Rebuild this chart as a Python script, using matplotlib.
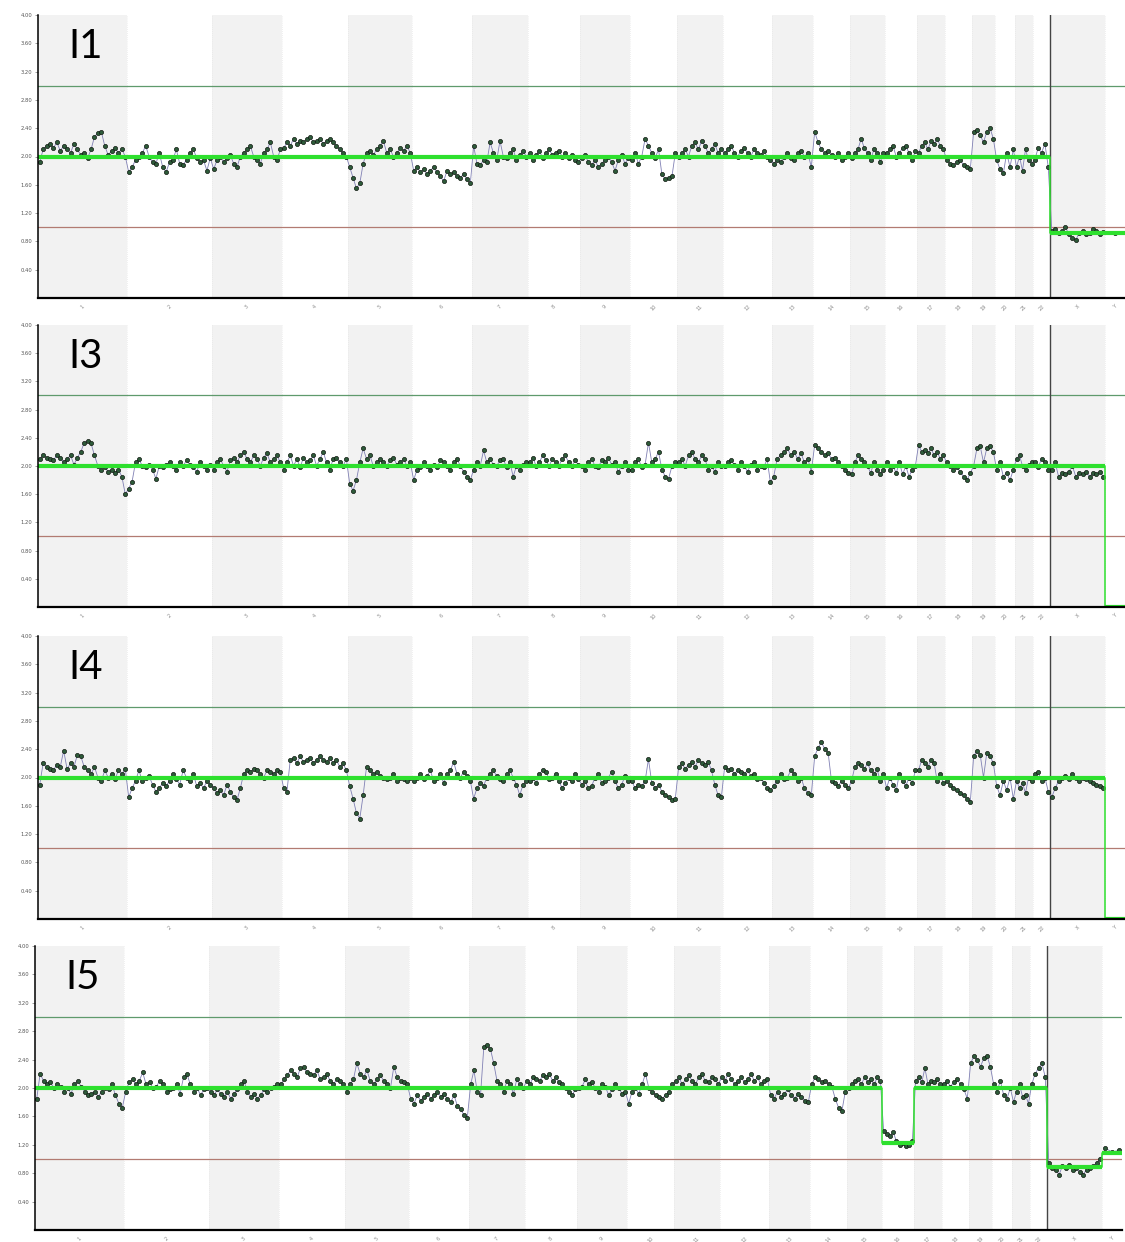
import matplotlib
matplotlib.use("Agg")
import matplotlib.pyplot as plt
import numpy as np

CHROMS = [str(i) for i in range(1, 23)] + ["X", "Y"]
# plotted width of each chromosome (probe-space units)
CHROM_WIDTH = [89, 85, 70, 66, 64, 60, 56, 52, 50, 47, 46, 49,
               41, 37, 35, 32, 28, 27, 23, 20, 18, 17, 55, 20]

Y_TICKS = [0.4, 0.8, 1.2, 1.6, 2.0, 2.4, 2.8, 3.2, 3.6, 4.0]
GAIN_LINE = 3.0
LOSS_LINE = 1.0

# copy-number estimates per chromosome
I1_VALUES = [
    [1.92, 2.1, 2.15, 2.18, 2.12, 2.2, 2.08, 2.15, 2.1, 2.05, 2.18, 2.1, 2.02, 2.05, 1.98, 2.1, 2.28, 2.33, 2.35, 2.15, 2.02, 2.08, 2.12, 2.05, 2.1, 2.0],
    [1.78, 1.85, 1.95, 2.0, 2.05, 2.15, 2.0, 1.92, 1.9, 2.05, 1.85, 1.78, 1.92, 1.95, 2.1, 1.9, 1.88, 1.95, 2.05, 2.1, 1.98, 1.92, 1.95, 1.8, 1.98],
    [1.82, 1.95, 2.0, 1.92, 1.98, 2.02, 1.9, 1.85, 2.0, 2.05, 2.1, 2.15, 2.0, 1.95, 1.9, 2.05, 2.1, 2.2, 2.0, 1.95, 2.1],
    [2.12, 2.2, 2.15, 2.25, 2.18, 2.22, 2.2, 2.25, 2.28, 2.2, 2.22, 2.25, 2.18, 2.22, 2.25, 2.2, 2.15, 2.1, 2.05, 2.0],
    [1.85, 1.7, 1.55, 1.62, 1.9, 2.05, 2.08, 2.02, 2.1, 2.15, 2.22, 2.05, 2.1, 2.0, 2.05, 2.12, 2.08, 2.15, 2.05],
    [1.8, 1.85, 1.78, 1.82, 1.75, 1.8, 1.85, 1.78, 1.72, 1.65, 1.8, 1.75, 1.78, 1.72, 1.7, 1.75, 1.68, 1.62],
    [2.15, 1.9, 1.88, 1.95, 1.92, 2.2, 2.05, 1.95, 2.22, 2.0, 1.98, 2.05, 2.1, 1.95, 2.02, 2.08, 2.0],
    [2.05, 1.95, 2.02, 2.08, 1.98, 2.05, 2.1, 2.02, 2.05, 2.08, 2.0, 2.05, 1.98, 2.02, 1.95, 1.92],
    [1.98, 2.02, 1.92, 1.88, 1.95, 1.85, 1.9, 1.95, 2.0, 1.92, 1.8, 1.95, 2.02, 1.9, 1.98],
    [1.95, 2.05, 1.9, 2.0, 2.25, 2.15, 2.05, 1.98, 2.1, 1.75, 1.68, 1.7, 1.72, 2.05],
    [2.0, 2.05, 2.1, 2.0, 2.15, 2.2, 2.1, 2.22, 2.15, 2.05, 2.1, 2.18, 2.05, 2.1],
    [2.05, 2.1, 2.15, 2.05, 2.0, 2.08, 2.12, 2.05, 2.0, 2.1, 2.05, 2.02, 2.08, 2.0, 1.95],
    [1.9, 1.95, 1.92, 2.0, 2.05, 1.98, 1.95, 2.05, 2.08, 2.0, 2.05, 1.85],
    [2.35, 2.2, 2.1, 2.05, 2.08, 2.02, 2.0, 2.05, 1.95, 2.0, 2.05],
    [1.98, 2.05, 2.1, 2.25, 2.12, 2.05, 1.95, 2.1, 2.05, 1.92, 2.05],
    [2.05, 2.1, 2.15, 2.0, 2.05, 2.12, 2.15, 2.05, 1.95, 2.08],
    [2.05, 2.15, 2.2, 2.1, 2.22, 2.18, 2.25, 2.15, 2.1],
    [1.95, 1.9, 1.88, 1.92, 1.95, 1.88, 1.85, 1.82],
    [2.35, 2.38, 2.3, 2.2, 2.35, 2.4, 2.25],
    [1.95, 1.82, 1.76, 2.05, 1.85, 2.1],
    [1.85, 2.0, 1.8, 2.1, 1.95, 1.9],
    [1.95, 2.12, 2.05, 2.18, 1.85],
    [0.95, 0.98, 0.92, 0.95, 1.0, 0.9, 0.85, 0.82, 0.92, 0.95, 0.9, 0.92, 0.98, 0.95, 0.9, 0.93],
    [0.92],
]
I1_SEGMENTS = [("1", "22", 2.0), ("X", "Y", 0.92)]

I3_VALUES = [
    [2.1, 2.15, 2.12, 2.1, 2.08, 2.15, 2.12, 2.05, 2.1, 2.15, 2.02, 2.12, 2.2, 2.33, 2.35, 2.32, 2.15, 2.0, 1.95, 1.98, 1.92, 1.95, 1.9, 1.95, 1.85, 1.6],
    [1.68, 1.78, 2.05, 2.1, 2.0, 1.98, 2.02, 1.95, 1.82, 2.0, 1.98, 2.02, 2.05, 2.0, 1.95, 2.05, 2.0, 2.08, 2.02, 1.98, 1.92, 2.05, 2.0, 1.95, 2.02],
    [1.95, 2.05, 2.1, 2.0, 1.92, 2.08, 2.12, 2.05, 2.15, 2.2, 2.1, 2.05, 2.15, 2.1, 2.0, 2.12, 2.18, 2.05, 2.1, 2.15, 2.05],
    [1.95, 2.05, 2.15, 2.0, 2.1, 1.98, 2.12, 2.05, 2.08, 2.15, 2.0, 2.1, 2.2, 2.05, 1.95, 2.1, 2.12, 2.05, 2.0, 2.1],
    [1.75, 1.65, 1.8, 2.05, 2.25, 2.1, 2.15, 2.0, 2.05, 2.1, 2.05, 2.0, 2.08, 2.12, 2.02, 2.05, 2.1, 2.0, 2.05],
    [1.8, 1.95, 1.98, 2.05, 2.0, 1.95, 2.02, 1.98, 2.08, 2.05, 2.0, 1.95, 2.05, 2.1, 2.0, 1.92, 1.85, 1.8],
    [1.95, 2.05, 2.0, 2.22, 2.05, 2.1, 2.02, 2.0, 2.08, 2.1, 1.98, 2.05, 1.85, 2.0, 1.95, 2.02, 2.05],
    [2.05, 2.12, 2.0, 2.05, 2.15, 2.08, 2.0, 2.1, 2.05, 2.0, 2.1, 2.15, 2.05, 2.0, 2.08, 2.02],
    [2.0, 1.95, 2.05, 2.1, 2.0, 1.98, 2.08, 2.05, 2.12, 2.02, 2.05, 1.92, 2.0, 2.05, 1.95],
    [1.95, 2.05, 2.1, 1.98, 2.02, 2.33, 2.05, 2.1, 2.2, 1.95, 1.85, 1.82, 2.0, 2.05],
    [2.05, 2.1, 2.0, 2.15, 2.2, 2.1, 2.05, 2.15, 2.1, 1.95, 2.0, 1.92, 2.05, 2.0],
    [2.0, 2.05, 2.08, 2.02, 1.95, 2.05, 2.0, 1.92, 2.02, 2.05, 1.95, 2.0, 1.98, 2.1, 1.77],
    [1.85, 2.1, 2.15, 2.2, 2.25, 2.15, 2.2, 2.1, 2.18, 2.05, 2.1, 1.92],
    [2.3, 2.25, 2.2, 2.15, 2.18, 2.1, 2.12, 2.05, 2.0, 1.95, 1.9],
    [1.88, 2.05, 2.15, 2.1, 2.05, 2.0, 1.9, 2.05, 1.95, 1.88, 1.95],
    [2.05, 1.95, 2.0, 1.9, 2.05, 1.88, 2.0, 1.85, 1.95, 2.0],
    [2.3, 2.2, 2.22, 2.18, 2.25, 2.15, 2.2, 2.1, 2.15],
    [2.05, 2.0, 1.95, 1.98, 1.92, 1.85, 1.8, 1.9],
    [2.0, 2.25, 2.28, 2.05, 2.25, 2.28, 2.2],
    [1.95, 2.05, 1.85, 1.9, 1.8, 1.95],
    [2.1, 2.15, 2.0, 1.95, 2.02, 2.05],
    [2.05, 1.98, 2.1, 2.05, 1.95],
    [1.95, 2.05, 1.85, 1.9, 1.88, 1.92, 2.0, 1.85, 1.9, 1.88, 1.92, 1.85, 1.9, 1.88, 1.92, 1.85],
    [],
]
I3_SEGMENTS = [("1", "X", 2.0), ("Y", "Y", 0.0)]

I4_VALUES = [
    [1.9, 2.2, 2.15, 2.12, 2.1, 2.18, 2.15, 2.38, 2.12, 2.2, 2.15, 2.32, 2.3, 2.15, 2.1, 2.05, 2.15, 2.0, 1.95, 2.1, 2.0, 2.05, 1.98, 2.1, 2.05, 2.12],
    [1.72, 1.85, 1.95, 2.1, 1.95, 2.0, 2.02, 1.9, 1.8, 1.85, 1.92, 1.88, 1.95, 2.05, 1.98, 1.9, 2.1, 2.0, 1.95, 2.05, 1.88, 1.92, 1.85, 1.95, 1.9],
    [1.85, 1.78, 1.82, 1.75, 1.9, 1.8, 1.72, 1.68, 1.85, 2.05, 2.1, 2.08, 2.12, 2.1, 2.05, 2.0, 2.1, 2.08, 2.05, 2.1, 2.08],
    [1.85, 1.8, 2.25, 2.28, 2.2, 2.3, 2.22, 2.25, 2.28, 2.2, 2.25, 2.3, 2.25, 2.22, 2.28, 2.2, 2.25, 2.15, 2.2, 2.1],
    [1.88, 1.7, 1.5, 1.42, 1.75, 2.15, 2.1, 2.05, 2.08, 2.02, 2.0, 1.98, 2.0, 2.05, 1.95, 2.0, 1.98, 1.95, 2.0],
    [1.95, 2.0, 2.05, 1.98, 2.02, 2.1, 1.95, 2.0, 2.05, 1.92, 2.05, 2.1, 2.22, 2.05, 2.0, 2.08, 2.02, 1.95],
    [1.7, 1.85, 1.92, 1.88, 2.0, 2.05, 2.1, 2.02, 1.98, 1.95, 2.05, 2.1, 2.0, 1.9, 1.75, 1.9, 1.95],
    [1.95, 2.0, 1.92, 2.05, 2.1, 2.08, 1.98, 2.0, 2.05, 1.95, 1.85, 1.92, 2.0, 1.95, 2.05, 1.98],
    [1.9, 1.95, 1.85, 1.88, 2.0, 2.05, 1.92, 1.95, 2.0, 2.08, 1.95, 1.85, 1.9, 2.02, 1.95],
    [1.95, 1.85, 1.9, 1.88, 1.95, 2.26, 1.92, 1.85, 1.9, 1.8, 1.75, 1.72, 1.68, 1.7],
    [2.15, 2.2, 2.12, 2.18, 2.22, 2.15, 2.25, 2.2, 2.18, 2.22, 2.1, 1.9, 1.75, 1.72],
    [2.15, 2.1, 2.12, 2.05, 2.1, 2.08, 2.05, 2.1, 2.02, 2.05, 1.98, 2.0, 1.92, 1.85, 1.82],
    [1.88, 1.95, 2.05, 1.98, 2.0, 2.1, 2.05, 1.95, 2.0, 1.85, 1.78, 1.75],
    [2.3, 2.42, 2.5, 2.4, 2.35, 1.95, 1.92, 1.88, 1.95, 1.9, 1.85],
    [1.95, 2.15, 2.2, 2.18, 2.12, 2.2, 2.1, 2.05, 2.12, 1.95, 2.05],
    [1.85, 2.0, 1.9, 1.82, 2.05, 1.95, 1.88, 2.0, 1.92, 2.1],
    [2.1, 2.25, 2.2, 2.15, 2.25, 2.2, 1.95, 2.05, 1.92],
    [1.95, 1.9, 1.85, 1.82, 1.78, 1.75, 1.7, 1.65],
    [2.3, 2.38, 2.32, 2.0, 2.35, 2.3, 2.2],
    [1.88, 1.75, 1.95, 1.82, 2.0, 1.7],
    [1.95, 1.85, 1.92, 1.78, 2.0, 1.95],
    [2.05, 2.08, 1.95, 2.0, 1.8],
    [1.72, 1.85, 1.95, 2.0, 2.02, 1.98, 2.05, 2.0, 1.95, 2.0, 1.98, 1.95, 1.92, 1.9, 1.88, 1.85],
    [],
]
I4_SEGMENTS = [("1", "X", 2.0), ("Y", "Y", 0.0)]

I5_VALUES = [
    [1.85, 2.2, 2.1, 2.05, 2.08, 2.0, 2.05, 2.02, 1.95, 2.0, 1.92, 2.05, 2.1, 2.02, 1.95, 1.9, 1.92, 1.95, 1.88, 1.95, 2.0, 1.98, 2.05, 1.9, 1.78, 1.72],
    [1.95, 2.08, 2.12, 2.05, 2.1, 2.22, 2.05, 2.08, 2.0, 2.02, 2.1, 2.05, 1.95, 1.98, 2.0, 2.05, 1.92, 2.15, 2.2, 2.05, 1.95, 2.0, 1.9, 1.98, 2.0],
    [1.95, 1.9, 1.98, 1.92, 1.88, 1.95, 1.85, 1.92, 1.98, 2.05, 2.1, 1.95, 1.88, 1.92, 1.85, 1.9, 1.98, 1.95, 2.0, 2.02, 2.05],
    [2.05, 2.12, 2.18, 2.25, 2.2, 2.15, 2.28, 2.3, 2.22, 2.2, 2.18, 2.25, 2.12, 2.15, 2.2, 2.1, 2.05, 2.12, 2.1, 2.05],
    [1.95, 2.05, 2.12, 2.35, 2.2, 2.15, 2.25, 2.1, 2.05, 2.12, 2.18, 2.1, 2.05, 2.0, 2.3, 2.15, 2.1, 2.08, 2.05],
    [1.85, 1.78, 1.9, 1.82, 1.88, 1.92, 1.85, 1.9, 1.95, 1.88, 1.92, 1.85, 1.8, 1.9, 1.75, 1.7, 1.62, 1.58],
    [2.05, 2.25, 1.95, 1.9, 2.58, 2.6, 2.55, 2.35, 2.1, 2.05, 1.95, 2.1, 2.05, 1.92, 2.12, 2.05, 2.0],
    [2.1, 2.05, 2.15, 2.12, 2.1, 2.18, 2.15, 2.2, 2.1, 2.15, 2.08, 2.05, 2.0, 1.95, 1.9, 1.98],
    [2.0, 2.02, 2.12, 2.05, 2.08, 2.0, 1.95, 2.05, 2.02, 1.9, 1.98, 2.05, 2.0, 1.92, 1.95],
    [1.78, 1.95, 2.0, 1.92, 2.05, 2.2, 2.0, 1.95, 1.9, 1.88, 1.85, 1.9, 1.95, 2.05],
    [2.1, 2.15, 2.05, 2.12, 2.18, 2.1, 2.05, 2.15, 2.2, 2.1, 2.08, 2.15, 2.12, 2.05],
    [2.15, 2.1, 2.2, 2.12, 2.05, 2.1, 2.15, 2.08, 2.12, 2.2, 2.1, 2.15, 2.05, 2.1, 2.12],
    [1.9, 1.85, 1.95, 1.88, 1.92, 1.98, 1.9, 1.85, 1.92, 1.88, 1.82, 1.8],
    [2.05, 2.15, 2.12, 2.08, 2.1, 2.05, 2.02, 1.85, 1.72, 1.68, 1.95],
    [2.0, 2.05, 2.1, 2.12, 2.05, 2.15, 2.08, 2.12, 2.05, 2.15, 2.1],
    [1.4, 1.35, 1.32, 1.38, 1.25, 1.2, 1.22, 1.18, 1.2, 1.25],
    [2.1, 2.15, 2.08, 2.28, 2.05, 2.1, 2.08, 2.12, 2.05],
    [2.05, 2.1, 2.02, 2.08, 2.12, 2.05, 1.98, 1.85],
    [2.35, 2.45, 2.4, 2.3, 2.42, 2.45, 2.3],
    [2.05, 1.95, 2.1, 1.9, 1.85, 2.0],
    [1.8, 1.95, 2.05, 1.88, 1.9, 1.78],
    [2.05, 2.2, 2.28, 2.35, 2.15],
    [0.95, 0.88, 0.85, 0.78, 0.9, 0.88, 0.92, 0.85, 0.88, 0.82, 0.78, 0.85, 0.88, 0.9, 0.95, 1.0],
    [1.15, 1.1, 1.12],
]
I5_SEGMENTS = [("1", "15", 2.0), ("16", "16", 1.22), ("17", "22", 2.0),
               ("X", "X", 0.89), ("Y", "Y", 1.08)]

PANELS = [
    ("I1", I1_VALUES, I1_SEGMENTS),
    ("I3", I3_VALUES, I3_SEGMENTS),
    ("I4", I4_VALUES, I4_SEGMENTS),
    ("I5", I5_VALUES, I5_SEGMENTS),
]

W, H = 1125, 1242
# (left px, top px, bottom px) of each panel's plotting area
PANEL_BOX = [(38, 15, 298), (38, 325, 607), (38, 636, 919), (35, 946, 1230)]

edges = np.concatenate([[0], np.cumsum(CHROM_WIDTH)])
starts, ends = edges[:-1], edges[1:]
centers = (starts + ends) / 2
idx = {c: i for i, c in enumerate(CHROMS)}

fig = plt.figure(figsize=(W / 100, H / 100), dpi=100)

for (name, values, segments), (lpx, tpx, bpx) in zip(PANELS, PANEL_BOX):
    ax = fig.add_axes([lpx / W, 1 - bpx / H, edges[-1] / W, (bpx - tpx) / H])
    ax.set_xlim(0, edges[-1])
    ax.set_ylim(0, 4.0)

    # alternating chromosome bands
    for i in range(len(CHROMS)):
        if i % 2 == 0:
            ax.axvspan(starts[i], ends[i], color="#f2f2f2", lw=0, zorder=0)
        ax.axvline(starts[i], color="#e2e2e2", lw=0.5, ls=(0, (1, 2)), zorder=0.5)

    ax.axhline(GAIN_LINE, color="#5f9a6c", lw=0.9, zorder=1)
    ax.axhline(LOSS_LINE, color="#b27b72", lw=0.9, zorder=1)
    ax.axvline(starts[idx["X"]], color="#444444", lw=1.0, zorder=1)

    xs, ys = [], []
    for i, vals in enumerate(values):
        n = len(vals)
        if n == 0:
            continue
        xs.extend(starts[i] + (np.arange(n) + 0.5) / n * CHROM_WIDTH[i])
        ys.extend(vals)
    ax.plot(xs, ys, color="#8080b4", lw=0.6, zorder=3)
    ax.plot(xs, ys, "o", ms=3.0, mfc="#2e5b3a", mec="#101810", mew=0.5, zorder=4)

    # segment means: thin joining path, thick level bars
    sx, sy = [], []
    for a, b, v in segments:
        x0, x1 = starts[idx[a]], ends[idx[b]]
        sx += [x0, x1]
        sy += [v, v]
        ax.plot([x0, x1], [v, v], color="#2ee02e", lw=3,
                solid_capstyle="butt", zorder=5)
    ax.plot(sx, sy, color="#2ee02e", lw=1.1, zorder=5)

    ax.text(30 / edges[-1], 0.848, name, transform=ax.transAxes, fontsize=29,
            family=["Lato", "DejaVu Sans"], va="baseline", ha="left", zorder=6)

    ax.set_yticks(Y_TICKS)
    ax.set_yticklabels([f"{t:.2f}" for t in Y_TICKS])
    ax.tick_params(axis="y", labelsize=3.8, labelcolor="#555555", length=2,
                   width=0.5, color="#777777", pad=2)
    ax.set_xticks(centers)
    ax.set_xticklabels(CHROMS, rotation=45)
    ax.tick_params(axis="x", labelsize=3.6, labelcolor="#888888", length=0, pad=4)

    for s in ("top", "right"):
        ax.spines[s].set_visible(False)
    ax.spines["left"].set_linewidth(1.1)
    ax.spines["bottom"].set_linewidth(1.6)
    ax.spines["left"].set_zorder(7)
    ax.spines["bottom"].set_zorder(7)

fig.savefig("out.png", dpi=100)
